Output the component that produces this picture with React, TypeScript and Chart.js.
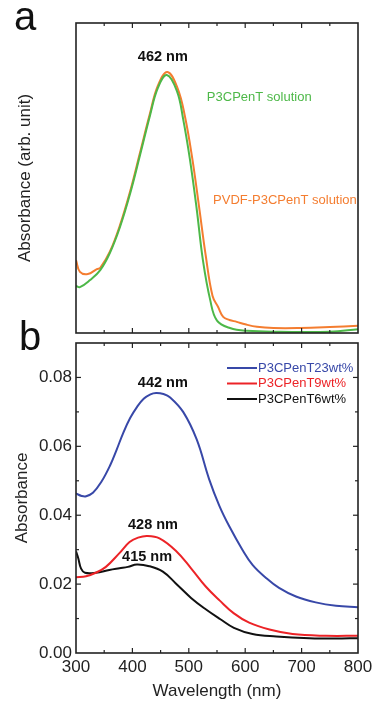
import React, { useEffect, useRef } from "react";
import { Chart, registerables } from "chart.js";
Chart.register(...registerables);

// ---------- Panel a: solutions (arbitrary units) ----------
const p3cpentSolWl = [300, 307, 325, 343, 360, 378, 396, 413, 431, 445, 461, 479, 490, 502, 514, 525, 538, 550, 573, 603, 662, 750, 800];
const p3cpentSolAbs = [0.152, 0.148, 0.171, 0.203, 0.258, 0.342, 0.45, 0.57, 0.70, 0.79, 0.832, 0.78, 0.69, 0.56, 0.40, 0.235, 0.106, 0.04, 0.016, 0.007, 0.004, 0.004, 0.012];

const pvdfSolWl = [300, 307, 321, 337, 343, 360, 378, 396, 413, 431, 445, 462, 480, 493, 506, 518, 530, 542, 552, 561, 572, 585, 600, 621, 650, 697, 750, 800];
const pvdfSolAbs = [0.235, 0.197, 0.19, 0.206, 0.21, 0.262, 0.348, 0.457, 0.578, 0.707, 0.797, 0.842, 0.79, 0.70, 0.565, 0.41, 0.25, 0.12, 0.084, 0.052, 0.042, 0.036, 0.028, 0.02, 0.016, 0.016, 0.019, 0.023];

// ---------- Panel b: films ----------
const wt23Wl = [300, 310, 318, 330, 345, 360, 372, 384, 396, 408, 420, 432, 442, 455, 467, 490, 514, 536, 554, 572, 595, 613, 637, 660, 690, 725, 761, 800];
const wt23Abs = [0.0463, 0.0456, 0.0455, 0.0465, 0.0497, 0.0543, 0.059, 0.064, 0.0682, 0.0714, 0.0738, 0.0751, 0.0755, 0.0752, 0.0742, 0.0700, 0.062, 0.0505, 0.0428, 0.0367, 0.0300, 0.0256, 0.0218, 0.0189, 0.0164, 0.0147, 0.0137, 0.0133];

const wt9Wl = [300, 318, 335, 353, 377, 395, 410, 426, 448, 477, 504, 530, 555, 580, 607, 643, 684, 743, 800];
const wt9Abs = [0.022, 0.0223, 0.0233, 0.025, 0.029, 0.0322, 0.0335, 0.034, 0.0333, 0.0297, 0.0246, 0.0193, 0.0152, 0.0115, 0.0088, 0.0068, 0.0055, 0.005, 0.005];

const wt6Wl = [300, 304, 309, 316, 335, 359, 377, 392, 408, 430, 454, 477, 504, 530, 556, 580, 613, 655, 714, 760, 800];
const wt6Abs = [0.0295, 0.0275, 0.0245, 0.0233, 0.0233, 0.0241, 0.0246, 0.025, 0.0257, 0.0252, 0.0236, 0.0202, 0.016, 0.0127, 0.0098, 0.0073, 0.0055, 0.0048, 0.0043, 0.0042, 0.0043];

const xTickLabels = [300, 400, 500, 600, 700, 800];
const xMinorTicks = [350, 450, 550, 650, 750];
const yTickLabels = [0, 0.02, 0.04, 0.06, 0.08];
const yMinorTicks = [0.01, 0.03, 0.05, 0.07];

const GREEN = "#4db848";
const ORANGE = "#f47d30";
const BLUE = "#3848a8";
const RED = "#ec2327";
const BLACK = "#111111";
const FONT = "'Liberation Sans', Arial, sans-serif";
const AXIS = "#222";

const toPts = (xs: number[], ys: number[]) => xs.map((x, i) => ({ x, y: ys[i] }));

const line = (ctx: CanvasRenderingContext2D, x1: number, y1: number, x2: number, y2: number) => {
  ctx.beginPath();
  ctx.moveTo(x1, y1);
  ctx.lineTo(x2, y2);
  ctx.stroke();
};

const frameTicks = {
  id: "frameTicks",
  afterDatasetsDraw(chart: any, _a: any, o: any) {
    const { ctx, chartArea: a, scales } = chart;
    ctx.save();
    ctx.strokeStyle = AXIS;
    ctx.lineWidth = 1.6;
    ctx.strokeRect(a.left, a.top, a.right - a.left, a.bottom - a.top);
    ctx.lineWidth = 1.2;
    const xs = scales.x;
    const ys = scales.y;
    (o.xMajor || []).forEach((v: number) => {
      const p = xs.getPixelForValue(v);
      line(ctx, p, a.bottom, p, a.bottom - 5);
      line(ctx, p, a.top, p, a.top + 5);
    });
    (o.xMinor || []).forEach((v: number) => {
      const p = xs.getPixelForValue(v);
      line(ctx, p, a.bottom, p, a.bottom - 3);
      line(ctx, p, a.top, p, a.top + 3);
    });
    (o.yMajor || []).forEach((v: number) => {
      const p = ys.getPixelForValue(v);
      line(ctx, a.left, p, a.left + 5, p);
      line(ctx, a.right, p, a.right - 5, p);
    });
    (o.yMinor || []).forEach((v: number) => {
      const p = ys.getPixelForValue(v);
      line(ctx, a.left, p, a.left + 3, p);
      line(ctx, a.right, p, a.right - 3, p);
    });
    ctx.restore();
  },
};

const annotations = {
  id: "annotations",
  afterDraw(chart: any, _a: any, o: any) {
    const { ctx, scales } = chart;
    ctx.save();
    (o.texts || []).forEach((t: any) => {
      ctx.font = t.font;
      ctx.fillStyle = t.color;
      ctx.textAlign = t.align || "center";
      ctx.textBaseline = "middle";
      ctx.fillText(t.text, scales.x.getPixelForValue(t.x), scales.y.getPixelForValue(t.y));
    });
    if (o.panel) {
      ctx.font = `40px ${FONT}`;
      ctx.fillStyle = "#111";
      ctx.textAlign = "left";
      ctx.textBaseline = "alphabetic";
      ctx.fillText(o.panel.text, o.panel.x, o.panel.y);
    }
    if (o.legend) {
      const { x, y, gap } = o.legend;
      chart.data.datasets.forEach((ds: any, i: number) => {
        const yy = y + i * gap;
        ctx.strokeStyle = ds.borderColor;
        ctx.lineWidth = 2;
        line(ctx, x, yy, x + 30, yy);
        ctx.font = `13px ${FONT}`;
        ctx.fillStyle = ds.borderColor;
        ctx.textAlign = "left";
        ctx.textBaseline = "middle";
        ctx.fillText(ds.label, x + 31, yy);
      });
    }
    ctx.restore();
  },
};

const lineDs = (label: string, xs: number[], ys: number[], color: string) => ({
  label,
  data: toPts(xs, ys),
  borderColor: color,
  backgroundColor: color,
  borderWidth: 2,
  pointRadius: 0,
  tension: 0.4,
});

const zeroPad = (s: any) => {
  s.paddingLeft = 0;
  s.paddingRight = 0;
};

function PanelA() {
  const ref = useRef<HTMLCanvasElement>(null);
  useEffect(() => {
    const chart = new Chart(ref.current!, {
      type: "line",
      data: {
        datasets: [
          lineDs("P3CPenT solution", p3cpentSolWl, p3cpentSolAbs, GREEN),
          lineDs("PVDF-P3CPenT solution", pvdfSolWl, pvdfSolAbs, ORANGE),
        ],
      },
      options: {
        animation: false,
        responsive: false,
        layout: { padding: { left: 0, right: 16, top: 23, bottom: 0 } },
        scales: {
          x: {
            type: "linear",
            min: 300,
            max: 800,
            grid: { display: false, drawTicks: false },
            border: { display: false },
            ticks: { display: false },
            afterFit: (s: any) => { s.height = 7; zeroPad(s); },
          },
          y: {
            type: "linear",
            min: 0,
            max: 1,
            grid: { display: false, drawTicks: false },
            border: { display: false },
            ticks: { display: false },
            title: {
              display: true,
              text: "Absorbance (arb. unit)",
              color: "#222",
              font: { family: FONT, size: 17 },
              padding: { top: 15, bottom: 0 },
            },
            afterFit: (s: any) => { s.width = 76; },
          },
        },
        plugins: {
          legend: { display: false },
          tooltip: { enabled: false },
          frameTicks: { xMajor: xTickLabels.slice(1, -1), xMinor: xMinorTicks },
          annotations: {
            panel: { text: "a", x: 14, y: 30 },
            texts: [
              { text: "462 nm", x: 454, y: 0.89, font: `bold 14.5px ${FONT}`, color: "#111" },
              { text: "P3CPenT solution", x: 532, y: 0.761, font: `13px ${FONT}`, color: GREEN, align: "left" },
              { text: "PVDF-P3CPenT solution", x: 543, y: 0.429, font: `13px ${FONT}`, color: ORANGE, align: "left" },
            ],
          },
        } as any,
      },
      plugins: [frameTicks, annotations],
    });
    return () => chart.destroy();
  }, []);
  return <canvas ref={ref} width={374} height={340} style={{ position: "absolute", left: 0, top: 0 }} />;
}

function PanelB() {
  const ref = useRef<HTMLCanvasElement>(null);
  useEffect(() => {
    const chart = new Chart(ref.current!, {
      type: "line",
      data: {
        datasets: [
          lineDs("P3CPenT23wt%", wt23Wl, wt23Abs, BLUE),
          lineDs("P3CPenT9wt%", wt9Wl, wt9Abs, RED),
          lineDs("P3CPenT6wt%", wt6Wl, wt6Abs, BLACK),
        ],
      },
      options: {
        animation: false,
        responsive: false,
        layout: { padding: { left: 0, right: 16, top: 33, bottom: 0 } },
        scales: {
          x: {
            type: "linear",
            min: 300,
            max: 800,
            grid: { display: false, drawTicks: false },
            border: { display: false },
            afterBuildTicks: (s: any) => { s.ticks = xTickLabels.map((v) => ({ value: v })); },
            ticks: { color: "#222", font: { family: FONT, size: 17 }, padding: 4, maxRotation: 0, autoSkip: false },
            title: {
              display: true,
              text: "Wavelength (nm)",
              color: "#222",
              font: { family: FONT, size: 17 },
              padding: { top: 0, bottom: 0 },
            },
            afterFit: (s: any) => { s.height = 49; zeroPad(s); },
          },
          y: {
            type: "linear",
            min: 0,
            max: 0.09,
            grid: { display: false, drawTicks: false },
            border: { display: false },
            afterBuildTicks: (s: any) => { s.ticks = yTickLabels.map((v) => ({ value: v })); },
            ticks: {
              color: "#222",
              font: { family: FONT, size: 17 },
              padding: 4,
              callback: (v: any) => Number(v).toFixed(2),
            },
            title: {
              display: true,
              text: "Absorbance",
              color: "#222",
              font: { family: FONT, size: 17 },
              padding: { top: 12, bottom: 0 },
            },
            afterFit: (s: any) => { s.width = 76; s.paddingTop = 0; s.paddingBottom = 0; },
          },
        },
        plugins: {
          legend: { display: false },
          tooltip: { enabled: false },
          frameTicks: { xMajor: xTickLabels.slice(1, -1), xMinor: xMinorTicks, yMajor: yTickLabels.slice(1), yMinor: yMinorTicks },
          annotations: {
            panel: { text: "b", x: 19, y: 40 },
            legend: { x: 227, y: 58, gap: 15.5 },
            texts: [
              { text: "442 nm", x: 454, y: 0.0783, font: `bold 14.5px ${FONT}`, color: "#111" },
              { text: "428 nm", x: 436.5, y: 0.0371, font: `bold 14.5px ${FONT}`, color: "#111" },
              { text: "415 nm", x: 426, y: 0.0278, font: `bold 14.5px ${FONT}`, color: "#111" },
            ],
          },
        } as any,
      },
      plugins: [frameTicks, annotations],
    });
    return () => chart.destroy();
  }, []);
  return <canvas ref={ref} width={374} height={392} style={{ position: "absolute", left: 0, top: 310 }} />;
}

export default function App() {
  return (
    <div style={{ position: "absolute", left: 0, top: 0, width: 374, height: 702, background: "#fff", overflow: "hidden" }}>
      <PanelA />
      <PanelB />
    </div>
  );
}
